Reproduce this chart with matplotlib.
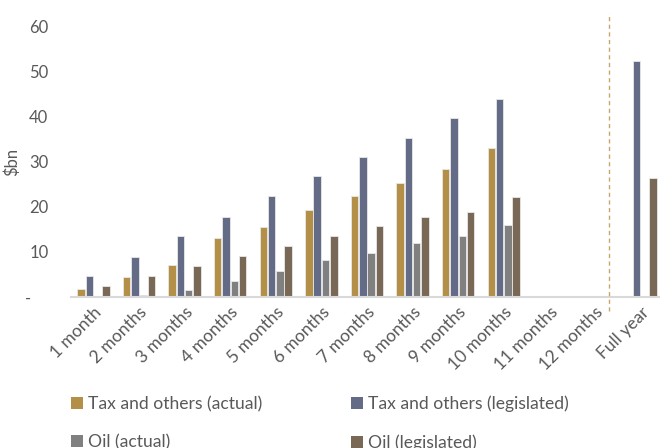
import matplotlib.pyplot as plt
import numpy as np
from matplotlib.patches import Patch
from matplotlib.ticker import FixedLocator, FuncFormatter

plt.rcParams['font.family'] = ['Lato', 'DejaVu Sans']

categories = ['1 month', '2 months', '3 months', '4 months', '5 months', '6 months',
              '7 months', '8 months', '9 months', '10 months', '11 months', '12 months',
              'Full year']
tax_actual = [1.7, 4.5, 7.1, 13.1, 15.6, 19.3, 22.4, 25.4, 28.4, 33.1, 0, 0, 0]
tax_legislated = [4.6, 9.0, 13.5, 17.8, 22.4, 26.8, 31.1, 35.4, 39.7, 44.0, 0, 0, 52.4]
oil_actual = [0, 0.5, 1.6, 3.6, 5.7, 8.2, 9.8, 12.0, 13.6, 15.9, 0, 0, 0]
oil_legislated = [2.4, 4.6, 6.8, 9.1, 11.3, 13.6, 15.7, 17.8, 18.9, 22.2, 0, 0, 26.4]

series = [tax_actual, tax_legislated, oil_actual, oil_legislated]
names = ['Tax and others (actual)', 'Tax and others (legislated)',
         'Oil (actual)', 'Oil (legislated)']
colors = ['#B38F47', '#636B86', '#808080', '#7A6856']
text_color = '#595959'

fig = plt.figure(figsize=(6.6, 4.48), dpi=100)
ax = fig.add_axes([0.107, 0.337, 0.898, 0.603])

x = np.arange(len(categories))
slot = 0.182
for i, vals in enumerate(series):
    vals = np.array(vals, dtype=float)
    mask = vals > 0
    ax.bar(x[mask] + (i - 1.5) * slot, vals[mask], width=slot * 0.9,
           color=colors[i], edgecolor='#e8e8e8', linewidth=0.6, zorder=2)

ax.set_xlim(-0.5, len(categories) - 0.5)
ax.set_ylim(0, 60)

# dashed separator before full year
ax.plot([11.3, 11.3], [-3, 63.1], ls=(0, (3, 2.5)), color='#C9A56A', lw=1.0,
        clip_on=False, zorder=3)

for s in ['top', 'right', 'left']:
    ax.spines[s].set_visible(False)
ax.spines['bottom'].set_color('#D9D9D9')
ax.spines['bottom'].set_linewidth(1.5)

ax.yaxis.set_major_locator(FixedLocator([0, 10, 20, 30, 40, 50, 60]))
ax.yaxis.set_major_formatter(FuncFormatter(lambda v, p: '-    ' if v == 0 else '%d' % v))
ax.tick_params(axis='y', length=0, pad=16, labelsize=12, labelcolor=text_color)
ax.tick_params(axis='x', length=0, pad=5, labelsize=12.5, labelcolor=text_color)
ax.set_xticks(x)
ax.set_xticklabels(categories, rotation=45, ha='right', rotation_mode='anchor')
ax.set_ylabel('$bn', fontsize=12, color=text_color)
ax.yaxis.set_label_coords(-0.085, 0.5)

handles = [Patch(facecolor=c) for c in colors]
order = [0, 2, 1, 3]
fig.legend([handles[k] for k in order], [names[k] for k in order],
           loc='upper left', bbox_to_anchor=(0.108, 0.1165), ncol=2, frameon=False,
           handlelength=0.65, handleheight=0.65, handletextpad=0.3,
           columnspacing=5.1, labelspacing=1.25, fontsize=12.6, labelcolor=text_color,
           borderaxespad=0, borderpad=0)

fig.savefig('out.png', dpi=100)
